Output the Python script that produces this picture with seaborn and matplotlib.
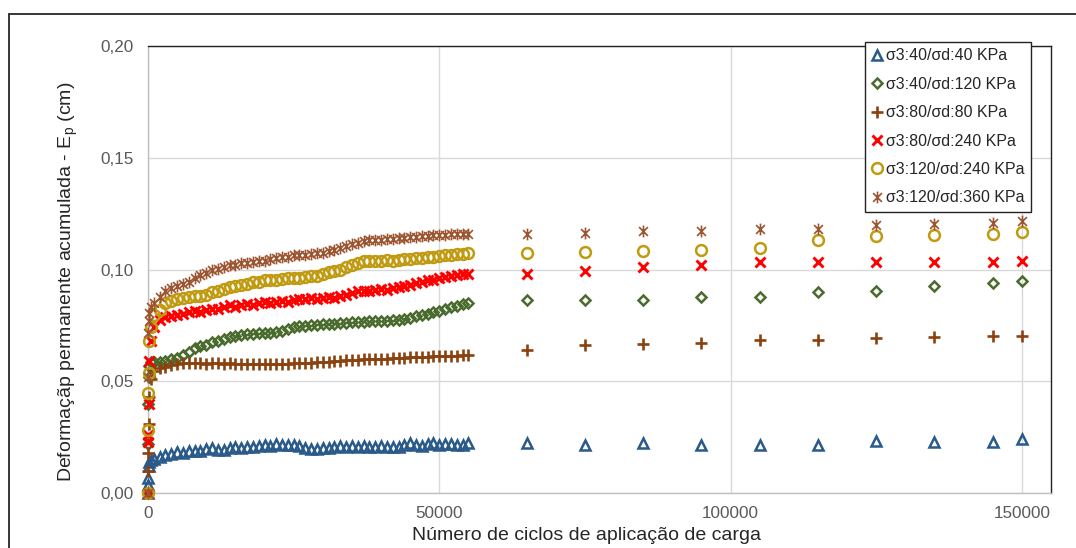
import matplotlib
matplotlib.use("Agg")
import matplotlib.pyplot as plt
import seaborn as sns
import pandas as pd
from matplotlib.path import Path
from matplotlib.lines import Line2D

# ---------------- data ----------------
cycles = [0, 10, 50, 100, 200, 500,
          1000, 2000, 3000, 4000, 5000, 6000, 7000, 8000, 9000, 10000,
          11000, 12000, 13000, 14000, 15000, 16000, 17000, 18000, 19000, 20000,
          21000, 22000, 23000, 24000, 25000, 26000, 27000, 28000, 29000, 30000,
          31000, 32000, 33000, 34000, 35000, 36000, 37000, 38000, 39000, 40000,
          41000, 42000, 43000, 44000, 45000, 46000, 47000, 48000, 49000, 50000,
          51000, 52000, 53000, 54000, 55000,
          65000, 75000, 85000, 95000, 105000, 115000, 125000, 135000, 145000, 150000]

s40_40 = [0.0000, 0.0036, 0.0067, 0.0120, 0.0140, 0.0148,
          0.0150, 0.0162, 0.0170, 0.0176, 0.0182, 0.0178, 0.0186, 0.0190, 0.0188, 0.0196,
          0.0200, 0.0193, 0.0192, 0.0201, 0.0205, 0.0203, 0.0207, 0.0205, 0.0210, 0.0213,
          0.0212, 0.0219, 0.0216, 0.0213, 0.0215, 0.0210, 0.0200, 0.0196, 0.0199, 0.0203,
          0.0201, 0.0205, 0.0209, 0.0207, 0.0210, 0.0208, 0.0211, 0.0207, 0.0206, 0.0210,
          0.0207, 0.0205, 0.0208, 0.0214, 0.0222, 0.0215, 0.0212, 0.0218, 0.0224, 0.0216,
          0.0219, 0.0221, 0.0213, 0.0216, 0.0222,
          0.0222, 0.0217, 0.0222, 0.0217, 0.0217, 0.0213, 0.0233, 0.0226, 0.0229, 0.0240]

s40_120 = [0.0000, 0.0220, 0.0400, 0.0520, 0.0570, 0.0586,
           0.0588, 0.0586, 0.0590, 0.0598, 0.0605, 0.0618, 0.0632, 0.0648, 0.0656, 0.0664,
           0.0676, 0.0682, 0.0690, 0.0698, 0.0702, 0.0706, 0.0710, 0.0712, 0.0714, 0.0716,
           0.0714, 0.0720, 0.0726, 0.0734, 0.0741, 0.0745, 0.0748, 0.0750, 0.0752, 0.0754,
           0.0755, 0.0757, 0.0760, 0.0762, 0.0764, 0.0765, 0.0766, 0.0768, 0.0769, 0.0770,
           0.0771, 0.0772, 0.0776, 0.0780, 0.0785, 0.0790, 0.0796, 0.0802, 0.0808, 0.0815,
           0.0822, 0.0830, 0.0838, 0.0845, 0.0850,
           0.0865, 0.0865, 0.0865, 0.0879, 0.0879, 0.0899, 0.0905, 0.0927, 0.0939, 0.0948]

s80_80 = [0.0000, 0.0100, 0.0178, 0.0310, 0.0430, 0.0510,
          0.0545, 0.0558, 0.0565, 0.0572, 0.0578, 0.0580, 0.0581, 0.0580, 0.0580, 0.0579,
          0.0580, 0.0581, 0.0579, 0.0580, 0.0578, 0.0577, 0.0578, 0.0576, 0.0575, 0.0577,
          0.0576, 0.0578, 0.0577, 0.0579, 0.0582, 0.0581, 0.0583, 0.0582, 0.0584, 0.0586,
          0.0587, 0.0589, 0.0592, 0.0594, 0.0596, 0.0597, 0.0598, 0.0599, 0.0600, 0.0601,
          0.0601, 0.0602, 0.0604, 0.0606, 0.0607, 0.0608, 0.0609, 0.0610, 0.0611, 0.0612,
          0.0613, 0.0614, 0.0615, 0.0616, 0.0617,
          0.0638, 0.0662, 0.0668, 0.0673, 0.0683, 0.0686, 0.0693, 0.0698, 0.0702, 0.0702]

s80_240 = [0.0000, 0.0229, 0.0260, 0.0400, 0.0590, 0.0680,
           0.0743, 0.0772, 0.0787, 0.0792, 0.0798, 0.0803, 0.0808, 0.0815, 0.0812, 0.0820,
           0.0825, 0.0822, 0.0830, 0.0839, 0.0834, 0.0842, 0.0846, 0.0843, 0.0850, 0.0854,
           0.0848, 0.0856, 0.0860, 0.0855, 0.0862, 0.0869, 0.0866, 0.0872, 0.0868, 0.0874,
           0.0876, 0.0872, 0.0880, 0.0888, 0.0895, 0.0903, 0.0906, 0.0902, 0.0908, 0.0912,
           0.0910, 0.0918, 0.0921, 0.0926, 0.0932, 0.0938, 0.0944, 0.0951, 0.0955, 0.0960,
           0.0966, 0.0970, 0.0974, 0.0978, 0.0981,
           0.0981, 0.0994, 0.1013, 0.1019, 0.1034, 0.1034, 0.1034, 0.1034, 0.1034, 0.1039]

s120_240 = [0.0000, 0.0280, 0.0446, 0.0536, 0.0680, 0.0743,
            0.0795, 0.0817, 0.0848, 0.0858, 0.0866, 0.0872, 0.0876, 0.0882, 0.0880, 0.0888,
            0.0899, 0.0905, 0.0912, 0.0921, 0.0926, 0.0930, 0.0936, 0.0942, 0.0946, 0.0951,
            0.0955, 0.0953, 0.0958, 0.0962, 0.0963, 0.0960, 0.0966, 0.0969, 0.0972, 0.0978,
            0.0988, 0.0994, 0.1000, 0.1010, 0.1020, 0.1030, 0.1037, 0.1039, 0.1038, 0.1040,
            0.1041, 0.1040, 0.1043, 0.1046, 0.1048, 0.1050, 0.1053, 0.1055, 0.1058, 0.1060,
            0.1063, 0.1066, 0.1068, 0.1070, 0.1073,
            0.1073, 0.1077, 0.1082, 0.1086, 0.1095, 0.1134, 0.1149, 0.1153, 0.1159, 0.1167]

s120_360 = [0.0000, 0.0520, 0.0714, 0.0770, 0.0804, 0.0830,
            0.0848, 0.0876, 0.0906, 0.0915, 0.0925, 0.0935, 0.0945, 0.0960, 0.0975, 0.0985,
            0.0996, 0.1002, 0.1010, 0.1018, 0.1022, 0.1027, 0.1031, 0.1035, 0.1038, 0.1040,
            0.1045, 0.1050, 0.1054, 0.1058, 0.1063, 0.1065, 0.1067, 0.1070, 0.1073, 0.1076,
            0.1082, 0.1088, 0.1095, 0.1103, 0.1112, 0.1120, 0.1126, 0.1130, 0.1132, 0.1134,
            0.1136, 0.1137, 0.1140, 0.1142, 0.1145, 0.1147, 0.1150, 0.1152, 0.1153, 0.1155,
            0.1156, 0.1157, 0.1158, 0.1158, 0.1159,
            0.1159, 0.1164, 0.1171, 0.1174, 0.1183, 0.1183, 0.1199, 0.1204, 0.1208, 0.1219]

series_labels = ["σ3:40/σd:40 KPa", "σ3:40/σd:120 KPa", "σ3:80/σd:80 KPa",
                 "σ3:80/σd:240 KPa", "σ3:120/σd:240 KPa", "σ3:120/σd:360 KPa"]
series_values = [s40_40, s40_120, s80_80, s80_240, s120_240, s120_360]

x_ticks = [0, 50000, 100000, 150000]
x_ticklabels = ["0", "50000", "100000", "150000"]
y_ticks = [0.00, 0.05, 0.10, 0.15, 0.20]
y_ticklabels = ["0,00", "0,05", "0,10", "0,15", "0,20"]

# ---------------- style ----------------
sns.set_theme(style="white")
plt.rcParams["font.family"] = ["Liberation Sans", "DejaVu Sans"]
plt.rcParams["mathtext.fontset"] = "custom"
plt.rcParams["mathtext.rm"] = "Liberation Sans"
plt.rcParams["mathtext.it"] = "Liberation Sans:italic"

star_path = Path([(0, -1), (0, 1), (-0.75, -0.75), (0.75, 0.75), (-0.75, 0.75), (0.75, -0.75)],
                 [Path.MOVETO, Path.LINETO, Path.MOVETO, Path.LINETO, Path.MOVETO, Path.LINETO])

styles = [
    dict(marker="^", color="#2A5A8A", ms=7.5, mew=1.8, mfc="none"),
    dict(marker="D", color="#4A6B2E", ms=5.4, mew=1.8, mfc="none"),
    dict(marker="+", color="#8B420F", ms=8.0, mew=1.9, mfc="none"),
    dict(marker="x", color="#FF0000", ms=6.8, mew=2.1, mfc="none"),
    dict(marker="o", color="#C09A10", ms=7.8, mew=1.8, mfc="none"),
    dict(marker=star_path, color="#9C5530", ms=8.5, mew=1.2, mfc="none"),
]

fig = plt.figure(figsize=(10.76, 5.48), dpi=100)
ax = fig.add_axes([148 / 1076, 55 / 548, 903 / 1076, 447 / 548])

for lab, vals, st in zip(series_labels, series_values, styles):
    df = pd.DataFrame({"ciclos": cycles, "ep": vals})
    sns.lineplot(data=df, x="ciclos", y="ep", ax=ax, estimator=None, errorbar=None,
                 linestyle="none", marker=st["marker"], color=st["color"],
                 markersize=st["ms"], markeredgewidth=st["mew"],
                 markeredgecolor=st["color"], markerfacecolor=st["mfc"],
                 label=lab, clip_on=False, zorder=3)

ax.set_xlim(0, 155000)
ax.set_ylim(0, 0.20)
ax.set_xticks(x_ticks)
ax.set_xticklabels(x_ticklabels)
ax.set_yticks(y_ticks)
ax.set_yticklabels(y_ticklabels)
ax.tick_params(axis="both", length=0, labelsize=12.3, labelcolor="#595959")
ax.tick_params(axis="x", pad=9)
ax.tick_params(axis="y", pad=10)
ax.grid(True, color="#D9D9D9", linewidth=1.0)
ax.set_axisbelow(True)

for side in ["left", "bottom"]:
    ax.spines[side].set_color("#BFBFBF")
    ax.spines[side].set_linewidth(1.0)
for side in ["top", "right"]:
    ax.spines[side].set_color("#222222")
    ax.spines[side].set_linewidth(1.0)

ax.set_xlabel("Número de ciclos de aplicação de carga", fontsize=14, color="#262626")
ax.set_ylabel("Deformaçãp permanente acumulada - E$_\\mathrm{p}$ (cm)", fontsize=14,
              color="#262626")
ax.xaxis.set_label_coords(0.486, -0.075)
ax.yaxis.set_label_coords(-0.075, 0.472)

handles, labels = ax.get_legend_handles_labels()
leg = ax.legend(handles, labels, loc="upper right",
                bbox_to_anchor=(1031 / 1076, 1 - 42 / 548), bbox_transform=fig.transFigure,
                borderaxespad=0, frameon=True, fancybox=False, framealpha=1,
                edgecolor="#222222", fontsize=11.5, labelspacing=0.84,
                handlelength=0.8, handletextpad=0.15, borderpad=0.4, labelcolor="#262626")
leg.get_frame().set_linewidth(1.0)
leg.set_zorder(10)

# outer chart frame (left and top edges visible)
fig.add_artist(Line2D([9 / 1076, 9 / 1076], [0, 1 - 14 / 548], transform=fig.transFigure,
                      color="#262626", lw=1.3))
fig.add_artist(Line2D([9 / 1076, 1], [1 - 14 / 548, 1 - 14 / 548], transform=fig.transFigure,
                      color="#262626", lw=1.3))

fig.savefig("out.png", dpi=100)
